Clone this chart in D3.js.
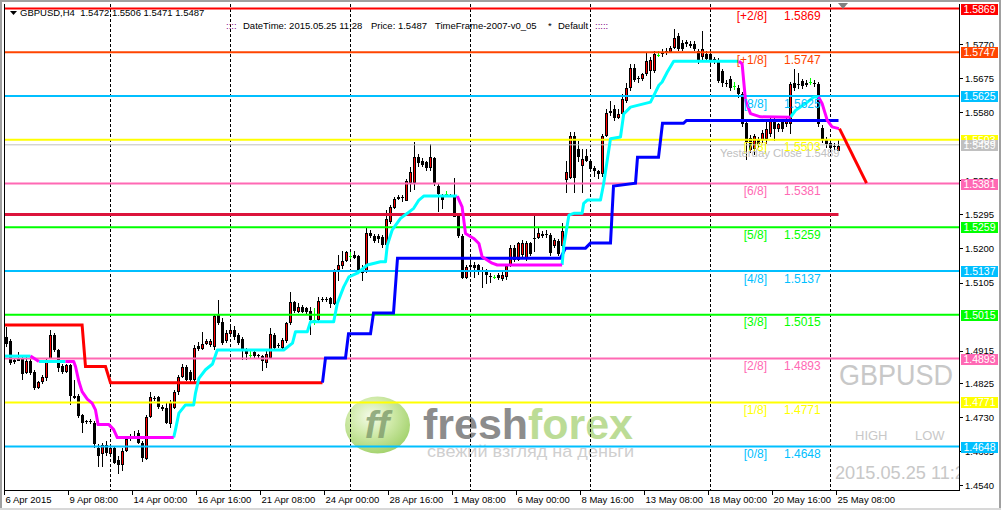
<!DOCTYPE html>
<html><head><meta charset="utf-8">
<script src="https://cdn.jsdelivr.net/npm/d3@7"></script>
<style>body{margin:0;background:#fff;}svg{display:block;}</style>
</head><body>
<svg id="c" width="1001" height="510"></svg>
<script>
// ---------------- DATA ----------------
const symbol = "GBPUSD";
const headerOHLC = "GBPUSD,H4  1.5472 1.5506 1.5471 1.5487";
const opens = [
1.4953,1.4943,1.4882,1.4888,1.4893,1.4852,1.4886,1.4855,1.4811,1.4827,
1.4838,1.4893,1.4959,1.4916,1.4873,1.4855,1.4875,1.4790,1.4790,1.4737,
1.4717,1.4719,1.4714,1.4645,1.4627,1.4653,1.4627,1.4645,1.4609,1.4597,
1.4636,1.4671,1.4673,1.4687,1.4659,1.4613,1.4730,1.4783,1.4785,1.4759,
1.4756,1.4710,1.4756,1.4800,1.4843,1.4870,1.4856,1.4833,1.4928,1.4921,
1.4934,1.4932,1.4925,1.5015,1.4996,1.4941,1.4964,1.4974,1.4958,1.4949,
1.4918,1.4904,1.4912,1.4902,1.4900,1.4881,1.4895,1.4960,1.4927,1.4923,
1.4941,1.4992,1.5050,1.5024,1.5038,1.5034,1.5026,1.5001,1.5001,1.5054,
1.5059,1.5061,1.5045,1.5140,1.5152,1.5165,1.5180,1.5183,1.5179,1.5146,
1.5135,1.5244,1.5235,1.5235,1.5232,1.5209,1.5274,1.5313,1.5343,1.5339,
1.5334,1.5381,1.5381,1.5454,1.5445,1.5440,1.5422,1.5451,1.5374,1.5348,
1.5352,1.5350,1.5350,1.5290,1.5235,1.5117,1.5149,1.5146,1.5154,1.5140,
1.5140,1.5124,1.5121,1.5126,1.5115,1.5121,1.5152,1.5202,1.5168,1.5181,
1.5170,1.5214,1.5230,1.5230,1.5240,1.5240,1.5237,1.5207,1.5221,1.5207,
1.5390,1.5398,1.5514,1.5477,1.5430,1.5458,1.5444,1.5425,1.5416,1.5407,
1.5514,1.5579,1.5589,1.5565,1.5575,1.5611,1.5648,1.5704,1.5674,1.5672,
1.5686,1.5695,1.5695,1.5740,1.5741,1.5746,1.5749,1.5760,1.5793,1.5774,
1.5775,1.5771,1.5769,1.5751,1.5732,1.5741,1.5741,1.5727,1.5723,1.5695,
1.5660,1.5672,1.5653,1.5648,1.5630,1.5551,1.5509,1.5476,1.5504,1.5504,
1.5504,1.5518,1.5560,1.5532,1.5555,1.5546,1.5546,1.5662,1.5658,1.5667,
1.5662,1.5665,1.5660,1.5658,1.5537,1.5504,1.5494,1.5485,1.5472];
const highs = [
1.4980,1.4948,1.4893,1.4911,1.4902,1.4898,1.4893,1.4861,1.4831,1.4847,
1.4893,1.4974,1.4965,1.4921,1.4879,1.4879,1.4879,1.4833,1.4794,1.4739,
1.4723,1.4724,1.4719,1.4655,1.4659,1.4664,1.4653,1.4650,1.4622,1.4645,
1.4673,1.4682,1.4691,1.4693,1.4664,1.4737,1.4801,1.4788,1.4788,1.4765,
1.4770,1.4778,1.4806,1.4847,1.4879,1.4875,1.4861,1.4930,1.4939,1.4968,
1.4948,1.4948,1.5017,1.5057,1.5006,1.4974,1.4983,1.4983,1.4964,1.4952,
1.4923,1.4913,1.4918,1.4906,1.4904,1.4913,1.4978,1.4964,1.4937,1.4950,
1.4996,1.5080,1.5054,1.5047,1.5043,1.5038,1.5038,1.5034,1.5066,1.5066,
1.5066,1.5066,1.5144,1.5181,1.5193,1.5193,1.5189,1.5193,1.5183,1.5154,
1.5260,1.5251,1.5239,1.5239,1.5237,1.5306,1.5320,1.5343,1.5348,1.5348,
1.5394,1.5426,1.5497,1.5463,1.5451,1.5445,1.5491,1.5454,1.5380,1.5352,
1.5359,1.5352,1.5396,1.5297,1.5241,1.5154,1.5163,1.5161,1.5158,1.5149,
1.5144,1.5131,1.5126,1.5131,1.5140,1.5158,1.5209,1.5209,1.5218,1.5223,
1.5220,1.5218,1.5291,1.5258,1.5250,1.5252,1.5244,1.5230,1.5226,1.5270,
1.5444,1.5524,1.5524,1.5500,1.5477,1.5477,1.5450,1.5430,1.5420,1.5520,
1.5589,1.5610,1.5600,1.5590,1.5630,1.5660,1.5713,1.5713,1.5680,1.5690,
1.5747,1.5735,1.5751,1.5750,1.5755,1.5760,1.5765,1.5811,1.5800,1.5780,
1.5782,1.5779,1.5778,1.5755,1.5807,1.5750,1.5750,1.5735,1.5730,1.5700,
1.5670,1.5680,1.5663,1.5655,1.5635,1.5560,1.5515,1.5520,1.5510,1.5530,
1.5555,1.5565,1.5565,1.5550,1.5560,1.5565,1.5665,1.5700,1.5690,1.5672,
1.5670,1.5675,1.5670,1.5665,1.5545,1.5510,1.5500,1.5495,1.5506];
const lows = [
1.4925,1.4875,1.4879,1.4886,1.4833,1.4849,1.4847,1.4806,1.4807,1.4822,
1.4831,1.4891,1.4911,1.4855,1.4851,1.4852,1.4765,1.4781,1.4728,1.4687,
1.4712,1.4710,1.4645,1.4592,1.4592,1.4622,1.4620,1.4600,1.4572,1.4581,
1.4634,1.4664,1.4668,1.4655,1.4604,1.4610,1.4728,1.4774,1.4752,1.4746,
1.4710,1.4700,1.4752,1.4792,1.4838,1.4831,1.4829,1.4829,1.4913,1.4916,
1.4930,1.4925,1.4918,1.4987,1.4932,1.4937,1.4960,1.4946,1.4932,1.4890,
1.4890,1.4895,1.4895,1.4893,1.4858,1.4867,1.4893,1.4918,1.4923,1.4918,
1.4937,1.4987,1.5020,1.5020,1.5020,1.5015,1.4960,1.4987,1.4996,1.5050,
1.5052,1.5034,1.5043,1.5108,1.5144,1.5163,1.5172,1.5170,1.5135,1.5108,
1.5131,1.5228,1.5216,1.5214,1.5200,1.5205,1.5269,1.5309,1.5334,1.5329,
1.5332,1.5357,1.5362,1.5426,1.5426,1.5417,1.5417,1.5375,1.5303,1.5311,
1.5348,1.5343,1.5288,1.5228,1.5115,1.5115,1.5126,1.5118,1.5126,1.5091,
1.5100,1.5103,1.5115,1.5112,1.5108,1.5112,1.5149,1.5163,1.5165,1.5177,
1.5165,1.5178,1.5190,1.5226,1.5228,1.5230,1.5180,1.5200,1.5178,1.5200,
1.5354,1.5393,1.5356,1.5440,1.5356,1.5440,1.5415,1.5400,1.5395,1.5400,
1.5510,1.5570,1.5555,1.5560,1.5570,1.5605,1.5640,1.5665,1.5660,1.5667,
1.5680,1.5645,1.5690,1.5735,1.5735,1.5740,1.5745,1.5755,1.5750,1.5750,
1.5763,1.5760,1.5750,1.5715,1.5725,1.5720,1.5715,1.5715,1.5660,1.5650,
1.5650,1.5640,1.5643,1.5620,1.5540,1.5448,1.5465,1.5462,1.5480,1.5495,
1.5490,1.5510,1.5500,1.5525,1.5525,1.5540,1.5520,1.5640,1.5645,1.5645,
1.5650,1.5655,1.5650,1.5540,1.5495,1.5480,1.5470,1.5475,1.5471];
const closes = [
1.4934,1.4882,1.4888,1.4893,1.4852,1.4886,1.4852,1.4811,1.4827,1.4841,
1.4888,1.4959,1.4916,1.4866,1.4855,1.4875,1.4788,1.4785,1.4735,1.4714,
1.4719,1.4717,1.4655,1.4622,1.4653,1.4632,1.4645,1.4604,1.4595,1.4636,
1.4670,1.4673,1.4678,1.4659,1.4616,1.4730,1.4786,1.4781,1.4756,1.4754,
1.4714,1.4772,1.4800,1.4843,1.4870,1.4833,1.4833,1.4922,1.4921,1.4934,
1.4943,1.4943,1.5012,1.4992,1.4937,1.4964,1.4974,1.4955,1.4937,1.4918,
1.4906,1.4904,1.4900,1.4899,1.4886,1.4906,1.4962,1.4923,1.4930,1.4946,
1.4992,1.5050,1.5024,1.5038,1.5024,1.5022,1.5001,1.5001,1.5054,1.5058,
1.5057,1.5045,1.5140,1.5154,1.5166,1.5189,1.5180,1.5176,1.5140,1.5131,
1.5244,1.5235,1.5220,1.5228,1.5209,1.5281,1.5315,1.5339,1.5337,1.5343,
1.5389,1.5412,1.5454,1.5436,1.5433,1.5422,1.5454,1.5380,1.5352,1.5334,
1.5352,1.5348,1.5290,1.5235,1.5117,1.5149,1.5154,1.5154,1.5140,1.5135,
1.5126,1.5120,1.5121,1.5117,1.5126,1.5152,1.5202,1.5168,1.5214,1.5214,
1.5214,1.5184,1.5226,1.5244,1.5235,1.5238,1.5188,1.5224,1.5184,1.5249,
1.5412,1.5514,1.5398,1.5454,1.5449,1.5444,1.5421,1.5416,1.5407,1.5514,
1.5579,1.5584,1.5565,1.5575,1.5617,1.5648,1.5704,1.5671,1.5672,1.5686,
1.5723,1.5725,1.5741,1.5740,1.5745,1.5750,1.5760,1.5788,1.5756,1.5756,
1.5770,1.5765,1.5755,1.5727,1.5755,1.5727,1.5725,1.5723,1.5667,1.5662,
1.5657,1.5648,1.5653,1.5630,1.5546,1.5499,1.5476,1.5513,1.5490,1.5523,
1.5532,1.5560,1.5532,1.5546,1.5532,1.5555,1.5658,1.5648,1.5656,1.5653,
1.5656,1.5665,1.5658,1.5546,1.5504,1.5490,1.5481,1.5483,1.5487];

// time axis
const timeLabels = ["6 Apr 2015","9 Apr 08:00","14 Apr 00:00","16 Apr 16:00","21 Apr 08:00","24 Apr 00:00","28 Apr 16:00","1 May 08:00","6 May 00:00","8 May 16:00","13 May 08:00","18 May 00:00","20 May 16:00","25 May 08:00"];
const timeLabelBars = [0,16,32,48,64,80,96,112,128,144,160,176,192,208];
const gridBars = [26,56,86,116,146,176,206];
// price axis (ticks fully hidden under the level boxes are omitted)
const priceTicks = [1.5770,1.5675,1.5580,1.5390,1.5295,1.5200,1.5105,1.4915,1.4825,1.4730,1.4635,1.4540];
// Murrey math levels
const murreyNames  = ["[+2/8]","[+1/8]","[8/8]","[7/8]","[6/8]","[5/8]","[4/8]","[3/8]","[2/8]","[1/8]","[0/8]"];
const murreyValues = [1.5869,1.5747,1.5625,1.5503,1.5381,1.5259,1.5137,1.5015,1.4893,1.4771,1.4648];
const yesterdayClose = 1.5489;
const pivotLevel = 1.5295;
// trailing stop (bar, price)
const stopDown = [[-1,1.4987],[18.9,1.4987],[19.75,1.4871],[24.75,1.4871],[26,1.4826],[79,1.4826]];
const stopUp = [[79,1.4826],[79.75,1.4895],[84.75,1.4895],[85.5,1.4962],[91,1.4962],[91.75,1.5020],[96.75,1.5020],[97.75,1.5173],[138.5,1.5173],[139.75,1.5201],[144.75,1.5201],[146,1.5215],[151,1.5215],[151.75,1.5374],[157.25,1.5382],[157.75,1.5454],[163,1.5454],[164,1.5549],[169.25,1.5549],[170,1.5557],[208,1.5557]];
// trend line (bar, price): up segments cyan, down segments magenta
const trendUp = [
 [[-1,1.4900],[6,1.4900]],
 [[8.1,1.4885],[14.75,1.4885]],
 [[41.8,1.4673],[42.25,1.4695],[43.1,1.4741],[44.75,1.4764],[46.8,1.4764],[47.25,1.4797],[48.1,1.4838],[49.75,1.4862],[51.5,1.4878],[52.7,1.4917],[69.3,1.4917],[71.5,1.4936],[72.25,1.4968],[75.2,1.4968],[76,1.4996],[81.8,1.4996],[82.7,1.5047],[84.3,1.5093],[85.6,1.5121],[87.7,1.5131],[90.2,1.5154],[93.5,1.5163],[94.75,1.5163],[95.2,1.5209],[96.4,1.5251],[98.5,1.5284],[100.2,1.5298],[101.8,1.5312],[103.1,1.5335],[104.3,1.5346],[112.7,1.5346]],
 [[138.9,1.5154],[139.3,1.5205],[140.6,1.5293],[141.8,1.5298],[143.9,1.5298],[144.3,1.5326],[145.2,1.5335],[148.5,1.5335],[149.3,1.5381],[151,1.5506],[153.5,1.5511],[154.3,1.5575],[156,1.5594],[161,1.5608],[162.25,1.5636],[163.1,1.5655],[163.9,1.5664],[165.2,1.5692],[166.8,1.5722],[183.1,1.5722]],
 [[196,1.5566],[197.25,1.5585],[199.75,1.5604],[201.8,1.5622],[203,1.5622]]
];
const trendDown = [
 [[6,1.4900],[8.1,1.4885]],
 [[14.75,1.4885],[16.8,1.4885],[17.25,1.4871],[18.1,1.4829],[18.9,1.4801],[20.2,1.4780],[21.4,1.4769],[22.25,1.4750],[22.9,1.4709],[25.6,1.4709],[26.8,1.4695],[27.7,1.4673],[41.8,1.4673]],
 [[112.7,1.5346],[113.9,1.5316],[114.75,1.5242],[116.8,1.5228],[118.1,1.5214],[118.9,1.5177],[121.4,1.5159],[122.7,1.5154],[138.9,1.5154]],
 [[183.1,1.5722],[183.9,1.5715],[184.75,1.5613],[186,1.5576],[188.5,1.5567],[196,1.5566]],
 [[203,1.5622],[203.9,1.5604],[205.2,1.5557],[206.4,1.5539],[208.1,1.5534]]
];
const projection = [[208.25,1.5534],[215,1.5382]];

// ---------------- STYLE ----------------
const murreyColors = ["#ff0000","#ff4500","#00bfff","#ffff00","#ff69b4","#00ff00","#00bfff","#00ff00","#ff69b4","#ffff00","#00bfff"];
const FONT = "'Liberation Sans', Arial, sans-serif";

// ---------------- DRAW ----------------
const svg = d3.select("#c");
const x = d3.scaleLinear().domain([0, 1]).range([4, 8]);          // bar left edge
const y = d3.scaleLinear().domain([1.4648, 1.5869]).range([446.5, 8.5]);
const cx = i => x(i) + 2.5;
const N = opens.length;
const idx = d3.range(N);

const defs = svg.append("defs");
defs.append("clipPath").attr("id","clip").append("rect").attr("x",5).attr("y",4).attr("width",954).attr("height",486);
defs.append("clipPath").attr("id","clipR").append("rect").attr("x",5).attr("y",4).attr("width",954).attr("height",486);
const rg = defs.append("radialGradient").attr("id","logoG").attr("cx","40%").attr("cy","35%").attr("r","70%");
rg.append("stop").attr("offset","0%").attr("stop-color","#f2fae6");
rg.append("stop").attr("offset","45%").attr("stop-color","#c9e79c");
rg.append("stop").attr("offset","100%").attr("stop-color","#8fc84e");

svg.append("rect").attr("width",1001).attr("height",510).attr("fill","#fff");

// watermark logo
const wm = svg.append("g");
wm.append("ellipse").attr("cx",377.5).attr("cy",425).attr("rx",32.5).attr("ry",28.5).attr("fill","url(#logoG)").attr("opacity",0.85);
wm.append("text").attr("x",377).attr("y",438).attr("text-anchor","middle").attr("font-family",FONT).attr("font-weight","bold").attr("font-style","italic")
  .attr("font-size",38).attr("fill","#7f9c6c").attr("opacity",0.8).text("ff");
const ff = wm.append("text").attr("x",423).attr("y",439).attr("font-family",FONT).attr("font-weight","bold").attr("font-size",42)
  .attr("textLength",210).attr("lengthAdjust","spacingAndGlyphs");
ff.append("tspan").attr("fill","#8c8c8c").text("fresh");
ff.append("tspan").attr("fill","#bcdc96").text("forex");
wm.append("text").attr("x",427).attr("y",457).attr("font-family",FONT).attr("font-size",17).attr("fill","#cfcfcf")
  .attr("textLength",207).attr("lengthAdjust","spacingAndGlyphs").text("свежий взгляд на деньги");

// GBPUSD / HIGH LOW / time watermark
const wt = svg.append("g").attr("clip-path","url(#clipR)").attr("font-family",FONT).attr("fill","#c8c8c8");
wt.append("text").attr("x",839).attr("y",385).attr("font-size",29).attr("textLength",114).attr("lengthAdjust","spacingAndGlyphs").text(symbol);
wt.append("text").attr("x",855).attr("y",440).attr("font-size",13).text("HIGH");
wt.append("text").attr("x",915).attr("y",440).attr("font-size",13).text("LOW");
wt.append("text").attr("x",835).attr("y",479).attr("font-size",18).attr("textLength",140).attr("lengthAdjust","spacingAndGlyphs").text("2015.05.25 11:28");

const g = svg.append("g").attr("clip-path","url(#clip)");

// vertical dashed grid
g.selectAll(".grid").data(gridBars).join("line")
  .attr("x1",d=>cx(d)-0.5).attr("x2",d=>cx(d)-0.5).attr("y1",4).attr("y2",490)
  .attr("stroke","#000").attr("stroke-width",1).attr("stroke-dasharray","3,2").attr("shape-rendering","crispEdges");

// candles
const cg = g.append("g").attr("shape-rendering","crispEdges");
cg.selectAll(".wick").data(idx).join("line")
  .attr("x1",i=>cx(i)).attr("x2",i=>cx(i))
  .attr("y1",i=>y(highs[i])).attr("y2",i=>y(lows[i]))
  .attr("stroke",i=>opens[i]===closes[i]?"#00ff00":"#000").attr("stroke-width",1);
const bodies = idx.filter(i=>opens[i]!==closes[i]);
cg.selectAll(".body").data(bodies).join("rect")
  .attr("x",i=>x(i)+1).attr("width",3)
  .attr("y",i=>Math.round(Math.min(y(opens[i]),y(closes[i]))))
  .attr("height",i=>Math.max(1,Math.round(Math.abs(y(opens[i])-y(closes[i])))))
  .attr("fill","#000");
const bulls = bodies.filter(i=>closes[i]>opens[i] && Math.abs(y(opens[i])-y(closes[i]))>=3);
cg.selectAll(".bull").data(bulls).join("rect")
  .attr("x",i=>x(i)+2).attr("width",1)
  .attr("y",i=>Math.round(y(closes[i]))+1)
  .attr("height",i=>Math.max(1,Math.round(Math.abs(y(opens[i])-y(closes[i])))-2))
  .attr("fill","#ff0000");
const dojis = idx.filter(i=>opens[i]===closes[i]);
cg.selectAll(".doji").data(dojis).join("line")
  .attr("x1",i=>x(i)+1).attr("x2",i=>x(i)+4)
  .attr("y1",i=>Math.round(y(opens[i]))+0.5).attr("y2",i=>Math.round(y(opens[i]))+0.5)
  .attr("stroke","#00ff00");

// Murrey lines
g.selectAll(".mm").data(murreyValues).join("line")
  .attr("x1",5).attr("x2",959).attr("y1",d=>y(d)).attr("y2",d=>y(d))
  .attr("stroke",(d,i)=>murreyColors[i]).attr("stroke-width",2);
// yesterday close
g.append("line").attr("x1",5).attr("x2",959).attr("y1",y(yesterdayClose)).attr("y2",y(yesterdayClose))
  .attr("stroke","#c0c0c0").attr("stroke-width",1);
// pivot (crimson)
g.append("line").attr("x1",5).attr("x2",cx(208)).attr("y1",y(pivotLevel)).attr("y2",y(pivotLevel))
  .attr("stroke","#dc143c").attr("stroke-width",3);

const line = d3.line().x(d=>cx(d[0])).y(d=>y(d[1]));
g.append("path").attr("d",line(stopDown)).attr("fill","none").attr("stroke","#ff0000").attr("stroke-width",3);
g.append("path").attr("d",line(stopUp)).attr("fill","none").attr("stroke","#0000ff").attr("stroke-width",3);
g.selectAll(".tu").data(trendUp).join("path").attr("d",line).attr("fill","none").attr("stroke","#00ffff").attr("stroke-width",3).attr("stroke-linejoin","round");
g.selectAll(".td").data(trendDown).join("path").attr("d",line).attr("fill","none").attr("stroke","#ff00ff").attr("stroke-width",3).attr("stroke-linejoin","round");
g.append("path").attr("d",line(projection)).attr("fill","none").attr("stroke","#ff0000").attr("stroke-width",3);

// Murrey labels
const ml = svg.append("g").attr("font-family",FONT).attr("font-size",12);
ml.selectAll(".mn").data(murreyValues).join("text")
  .attr("x",767).attr("y",d=>y(d)+11.5).attr("text-anchor","end")
  .attr("fill",(d,i)=>murreyColors[i]).text((d,i)=>murreyNames[i]);
ml.selectAll(".mv").data(murreyValues).join("text")
  .attr("x",784).attr("y",d=>y(d)+11.5)
  .attr("fill",(d,i)=>murreyColors[i]).text(d=>d.toFixed(4));
svg.append("text").attr("x",720).attr("y",157).attr("font-family",FONT).attr("font-size",11.3)
  .attr("fill","#c0c0c0").text("Yesterday Close " + yesterdayClose.toFixed(4));

// frame
svg.append("line").attr("x1",4.5).attr("x2",4.5).attr("y1",4).attr("y2",491).attr("stroke","#000");
svg.append("line").attr("x1",4).attr("x2",960).attr("y1",490.5).attr("y2",490.5).attr("stroke","#000");
svg.append("line").attr("x1",959.5).attr("x2",959.5).attr("y1",4).attr("y2",491).attr("stroke","#000");
svg.append("line").attr("x1",0).attr("x2",1001).attr("y1",1).attr("y2",1).attr("stroke","#a0a0a0").attr("stroke-width",2);
svg.append("line").attr("x1",1).attr("x2",1).attr("y1",0).attr("y2",510).attr("stroke","#a0a0a0").attr("stroke-width",2);
svg.append("line").attr("x1",1000).attr("x2",1000).attr("y1",0).attr("y2",510).attr("stroke","#a0a0a0").attr("stroke-width",2);
svg.append("line").attr("x1",0).attr("x2",1001).attr("y1",509).attr("y2",509).attr("stroke","#d8d8d8").attr("stroke-width",2);

// price axis
const ax = svg.append("g").attr("font-family",FONT).attr("font-size",9.5);
ax.selectAll(".pt").data(priceTicks).join("line")
  .attr("x1",959).attr("x2",963).attr("y1",d=>Math.round(y(d))+0.5).attr("y2",d=>Math.round(y(d))+0.5).attr("stroke","#000");
ax.selectAll(".pl").data(priceTicks).join("text")
  .attr("x",965).attr("y",d=>y(d)+3.5).attr("fill","#000").text(d=>d.toFixed(4));

// price boxes
const boxVals = murreyValues.slice(0,4).concat([yesterdayClose]).concat(murreyValues.slice(4));
const boxCols = murreyColors.slice(0,4).concat(["#c0c0c0"]).concat(murreyColors.slice(4));
const bx = svg.append("g").attr("font-family",FONT).attr("font-size",10.5);
bx.selectAll(".bb").data(boxVals).join("rect")
  .attr("x",961).attr("width",37).attr("y",d=>Math.round(y(d))-5).attr("height",11)
  .attr("fill",(d,i)=>boxCols[i]);
bx.selectAll(".bt").data(boxVals).join("text")
  .attr("x",979.5).attr("y",d=>Math.round(y(d))+4).attr("text-anchor","middle").attr("fill","#fff")
  .text(d=>d.toFixed(4));

// time axis
const tx = svg.append("g").attr("font-family",FONT).attr("font-size",9.5);
tx.selectAll(".tt").data(timeLabelBars).join("line")
  .attr("x1",d=>x(d)+0.5).attr("x2",d=>x(d)+0.5).attr("y1",490).attr("y2",495).attr("stroke","#000");
tx.selectAll(".tl").data(timeLabelBars).join("text")
  .attr("x",d=>x(d)+1.5).attr("y",503).attr("fill","#000").text((d,i)=>timeLabels[i]);

// header
svg.append("path").attr("d","M10,11 L17,11 L13.5,15 Z").attr("fill","#000");
const hd = svg.append("g").attr("font-family",FONT).attr("font-size",9.5).attr("fill","#000");
hd.append("text").attr("x",20).attr("y",16).attr("xml:space","preserve").text(headerOHLC);
hd.append("text").attr("x",226).attr("y",29).attr("fill","#800080").text("::::");
hd.append("text").attr("x",243).attr("y",29).text("DateTime: 2015.05.25 11:28");
hd.append("text").attr("x",371).attr("y",29).text("Price: 1.5487");
hd.append("text").attr("x",435).attr("y",29).text("TimeFrame-2007-v0_05");
hd.append("text").attr("x",548).attr("y",29).text("*");
hd.append("text").attr("x",558).attr("y",29).text("Default");
hd.append("text").attr("x",595).attr("y",29).attr("fill","#800080").text(":::::");
// shift marker
svg.append("path").attr("d","M838,3 L848,3 L843,9 Z").attr("fill","#808080");
</script>
</body></html>
